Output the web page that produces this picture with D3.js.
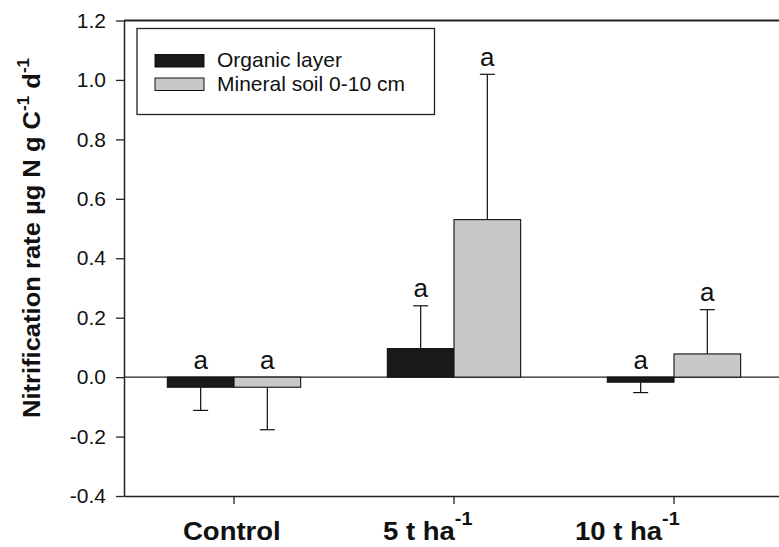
<!DOCTYPE html>
<html>
<head>
<meta charset="utf-8">
<script src="https://cdn.jsdelivr.net/npm/d3@7"></script>
<style>
  html, body { margin: 0; padding: 0; background: #ffffff; }
  svg { display: block; font-family: "Liberation Sans", Arial, sans-serif; }
</style>
</head>
<body>
<svg id="chart" width="779" height="547"></svg>
<script>
// ---- data ----
const categories = ["Control", "5 t ha", "10 t ha"];
const categorySup = ["", "-1", "-1"];
const series = ["Organic layer", "Mineral soil 0-10 cm"];
const organic = [-0.034, 0.096, -0.017];
const mineral = [-0.034, 0.530, 0.078];
const organicErr = [0.078, 0.144, 0.035];
const mineralErr = [0.143, 0.489, 0.149];
const organicLetters = ["a", "a", "a"];
const mineralLetters = ["a", "a", "a"];
const yTicks = [-0.4, -0.2, 0.0, 0.2, 0.4, 0.6, 0.8, 1.0, 1.2];

const rows = [];
categories.forEach((c, i) => {
  rows.push({cat: c, s: series[0], v: organic[i], e: organicErr[i], l: organicLetters[i]});
  rows.push({cat: c, s: series[1], v: mineral[i], e: mineralErr[i], l: mineralLetters[i]});
});

// ---- layout ----
const svg = d3.select("#chart");
const mLeft = 124, mRight = 784, mTop = 20.5, mBottom = 496;
const x0 = d3.scaleBand().domain(categories).range([mLeft, mRight]).padding(0);
const x1 = d3.scaleBand().domain(series).range([0, x0.bandwidth()]).paddingInner(0).paddingOuter(0.65);
const y = d3.scaleLinear().domain([-0.4, 1.2]).range([mBottom, mTop]);
const color = d3.scaleOrdinal().domain(series).range(["#1a1a1a", "#c8c8c8"]);

// frame lines
svg.append("line").attr("x1", mLeft).attr("x2", mRight).attr("y1", mTop).attr("y2", mTop)
  .attr("stroke", "#222").attr("stroke-width", 2);
svg.append("line").attr("x1", mLeft).attr("x2", mRight).attr("y1", y(0)).attr("y2", y(0))
  .attr("stroke", "#222").attr("stroke-width", 1.2);

// bars
const g = svg.append("g");
g.selectAll("rect.bar").data(rows).join("rect")
  .attr("class", "bar")
  .attr("x", d => x0(d.cat) + x1(d.s))
  .attr("width", x1.bandwidth())
  .attr("y", d => y(Math.max(0, d.v)))
  .attr("height", d => Math.abs(y(d.v) - y(0)))
  .attr("fill", d => color(d.s))
  .attr("stroke", "#111").attr("stroke-width", 1.1);

// error bars
const cx = d => x0(d.cat) + x1(d.s) + x1.bandwidth() / 2;
const errEnd = d => d.v >= 0 ? d.v + d.e : d.v - d.e;
g.selectAll("line.stem").data(rows).join("line")
  .attr("class", "stem")
  .attr("x1", cx).attr("x2", cx)
  .attr("y1", d => y(d.v)).attr("y2", d => y(errEnd(d)))
  .attr("stroke", "#111").attr("stroke-width", 1.2);
g.selectAll("line.cap").data(rows).join("line")
  .attr("class", "cap")
  .attr("x1", d => cx(d) - 7.5).attr("x2", d => cx(d) + 7.5)
  .attr("y1", d => y(errEnd(d))).attr("y2", d => y(errEnd(d)))
  .attr("stroke", "#111").attr("stroke-width", 1.2);

// significance letters
g.selectAll("text.letter").data(rows).join("text")
  .attr("class", "letter")
  .attr("x", cx)
  .attr("y", d => d.v >= 0 ? y(errEnd(d)) - 8.5 : y(0) - 8)
  .attr("text-anchor", "middle")
  .attr("font-size", 26)
  .attr("fill", "#111")
  .text(d => d.l);

// y axis
const yAxis = svg.append("g").attr("transform", `translate(${mLeft},0)`)
  .call(d3.axisLeft(y).tickValues(yTicks).tickFormat(d => d.toFixed(1)).tickSize(8).tickSizeOuter(0).tickPadding(10));
yAxis.select(".domain").attr("stroke", "#222").attr("stroke-width", 1.5);
yAxis.selectAll(".tick line").attr("stroke", "#222").attr("stroke-width", 1.3);
yAxis.selectAll(".tick text").attr("font-size", 21).attr("fill", "#111")
  .attr("font-family", "'Liberation Sans', Arial, sans-serif");

// x axis
const xAxis = svg.append("g").attr("transform", `translate(0,${mBottom})`)
  .call(d3.axisBottom(x0).tickSize(8).tickSizeOuter(0).tickFormat(""));
xAxis.select(".domain").attr("stroke", "#222").attr("stroke-width", 1.5);
xAxis.selectAll(".tick line").attr("stroke", "#222").attr("stroke-width", 1.3);

// x category labels
const labelShift = [-51, -71, -99];
const catLabels = svg.append("g");
categories.forEach((c, i) => {
  const t = catLabels.append("text")
    .attr("transform", `translate(${x0(c) + x0.bandwidth() / 2 + labelShift[i]},540) scale(1.1,1)`)
    .attr("font-size", 25).attr("font-weight", "bold").attr("fill", "#111")
    .attr("text-anchor", "start");
  t.append("tspan").text(c);
  if (categorySup[i]) {
    t.append("tspan").attr("font-size", 18).attr("dy", -15).text(categorySup[i]);
  }
});

// y title
const yt = svg.append("text")
  .attr("transform", "translate(40,238) rotate(-90) scale(1.065,1)")
  .attr("text-anchor", "middle")
  .attr("font-size", 24).attr("font-weight", "bold").attr("fill", "#111");
yt.append("tspan").text("Nitrification rate µg N g C");
yt.append("tspan").attr("font-size", 16).attr("dy", -11).text("-1");
yt.append("tspan").attr("dy", 11).text(" d");
yt.append("tspan").attr("font-size", 16).attr("dy", -11).text("-1");

// legend
const lg = svg.append("g");
lg.append("rect").attr("x", 137).attr("y", 28.5).attr("width", 297.5).attr("height", 86)
  .attr("fill", "#fff").attr("stroke", "#222").attr("stroke-width", 1.3);
series.forEach((s, i) => {
  lg.append("rect").attr("x", 155).attr("y", 54.5 + i * 23.5).attr("width", 49).attr("height", 12.5)
    .attr("fill", color(s)).attr("stroke", "#111").attr("stroke-width", 1);
  lg.append("text").attr("x", 217).attr("y", 67 + i * 23.5)
    .attr("font-size", 21).attr("fill", "#111").text(s);
});
</script>
</body>
</html>
